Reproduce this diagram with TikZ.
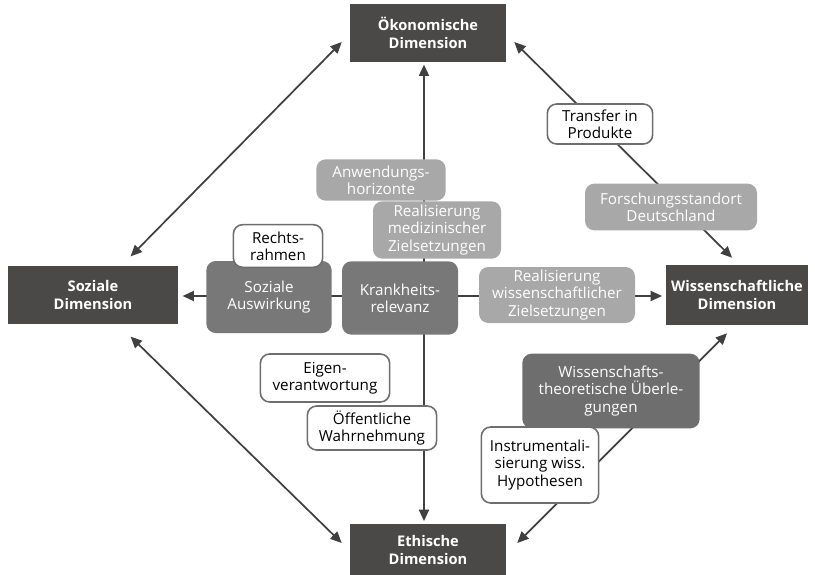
\documentclass[tikz,border=0pt]{standalone}
\usepackage{fontspec}
\setmainfont{Open Sans}
\usepackage{tikz}
\usetikzlibrary{
	arrows.meta,
	calc,
	backgrounds
}
\definecolor{boxdark}{HTML}{4A4947}
\definecolor{boxmid}{HTML}{787878}
\definecolor{boxlight}{HTML}{A8A8A8}
\definecolor{boxborder}{HTML}{6E6E6E}
\definecolor{linegray}{HTML}{404040}

\begin{document}
\begin{tikzpicture}[
				x=0.75pt, y=-0.75pt,
				box/.style={
					rectangle, rounded corners=7pt, inner sep=2pt,
					align=center, font=\fontsize{11.4}{13}\selectfont
				},
				dimbox/.style={
					rectangle, fill=boxdark, text=white, align=center,
					font=\bfseries\fontsize{11}{13}\selectfont
				},
				midbox/.style={
					box, fill=boxmid, text=white
				},
				lightbox/.style={
					box, fill=boxlight, text=white
				},
				notebox/.style={
					box, fill=white, draw=boxborder, line width=1.2pt, text=black
				},
				arrow/.style={-{Triangle[length=8.5pt,width=7.5pt]}, line width=1.3pt, draw=linegray},
				twoway/.style={arrow, {Triangle[length=8.5pt,width=7.5pt]}-{Triangle[length=8.5pt,width=7.5pt]}}
				]
				\useasboundingbox (0,0) rectangle (815,575);
				
				% dimensions
				\node[dimbox, minimum width=117pt, minimum height=43pt] (oeko) at (428,33) {Ökonomische\\Dimension};
				\node[dimbox, minimum width=128pt, minimum height=44pt] (sozial) at (93,295) {Soziale\\Dimension};
				\node[dimbox, minimum width=106pt, minimum height=45pt] (wiss) at (737,295) {Wissenschaftliche\\Dimension};
				\node[dimbox, minimum width=117pt, minimum height=39pt] (ethik) at (428,550) {Ethische\\Dimension};
				
				% centre
				\node[midbox, minimum width=94pt, minimum height=54pt] (auswirkung) at (269,297) {Soziale\\Auswirkung};
				\node[midbox, minimum width=87pt, minimum height=55pt] (krank) at (400,298) {Krankheits-\\relevanz};
				\node[notebox, minimum width=67pt, minimum height=32pt] (recht) at (278,246) {Rechts-\\rahmen};
				
				% upper labels
				\node[lightbox, minimum width=97pt, minimum height=31pt] (anwendung) at (381,180) {Anwendungs-\\horizonte};
				\node[lightbox, minimum width=96pt, minimum height=43pt] (realmed) at (437,230) {Realisierung\\medizinischer\\Zielsetzungen};
				\node[lightbox, minimum width=117pt, minimum height=42pt] (realwiss) at (557,295) {Realisierung\\wissenschaftlicher\\Zielsetzungen};
				\node[notebox, minimum width=79pt, minimum height=30pt] (transfer) at (600,124) {Transfer in\\Produkte};
				\node[lightbox, minimum width=129pt, minimum height=35pt] (standort) at (671,207) {Forschungsstandort\\Deutschland};
				
				% lower labels
				\node[notebox, minimum width=97pt, minimum height=36pt] (eigen) at (325,378) {Eigen-\\verantwortung};
				\node[notebox, minimum width=97pt, minimum height=33pt] (oeffentlich) at (372,428) {Öffentliche\\Wahrnehmung};
				\node[midbox, fill=boxmid!92!black, minimum width=133pt, minimum height=56pt] (theorie) at (611,391) {Wissenschafts-\\theoretische Überle-\\gungen};
				\node[notebox, minimum width=88pt, minimum height=57pt] (instrument) at (540,465) {Instrumentali-\\sierung wiss.\\Hypothesen};
				
				\coordinate (hub) at (424,296);
				
				% arrows behind the boxes
				\begin{scope}[on background layer]
				\draw[arrow, shorten >=2pt] (hub) -- (hub |- oeko.south);
				\draw[arrow, shorten >=2pt] (hub) -- (hub |- ethik.north);
				\draw[arrow, shorten >=3pt] (hub) -- (hub -| sozial.east);
				\draw[arrow, shorten >=3pt] (hub) -- (hub -| wiss.west);
				\draw[twoway] ($(sozial.north east)+(-48,-9)$) -- ($(oeko.west)+(-8,9)$);
				\draw[twoway] ($(sozial.south east)+(-48,12)$) -- ($(ethik.west)+(-8,-7)$);
				\draw[twoway] ($(oeko.east)+(8,9)$) -- ($(wiss.north west)+(66,-7)$);
				\draw[twoway] ($(ethik.east)+(11,-7)$) -- ($(wiss.south west)+(61,8)$);
				\end{scope}
			\end{tikzpicture}
\end{document}
